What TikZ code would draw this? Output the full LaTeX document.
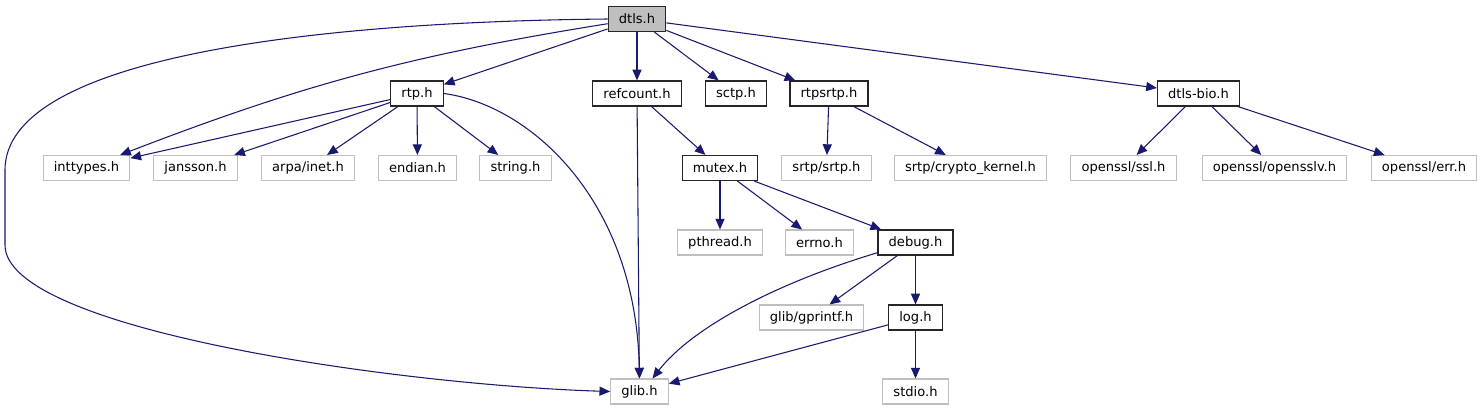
\documentclass[tikz,border=0pt]{standalone}
\usepackage{fontspec}
\setmainfont{DejaVu Sans}
\usepackage{xcolor}
\usepackage{tikz}
\usetikzlibrary{arrows.meta, positioning}
\definecolor{edgeblue}{HTML}{191970}
\definecolor{grey75}{HTML}{BFBFBF}

\begin{document}
\begin{tikzpicture}[
    x=0.75pt, y=-0.75pt,
    file node/.style = {
        rectangle,
        draw=black!85,
        line width=0.9pt,
        minimum height=18.75pt,
        inner xsep=8pt,
        inner ysep=0pt,
        font=\fontsize{9.8}{11}\selectfont,
        fill=white
    },
    main node/.style = {file node, fill=grey75},
    ext node/.style = {file node, draw=grey75, line width=0.8pt},
    dep/.style = {
        -{Triangle[length=8pt, width=6.8pt]},
        draw=edgeblue,
        line width=0.8pt
    }
]
\useasboundingbox (0,0) rectangle (1482,411);

\node [main node] (dtls) at (637,19) {dtls.h};

\node [file node] (rtp)      at (417,93.5)    {rtp.h};
\node [file node] (refcount) at (637,93.5)    {refcount.h};
\node [file node] (sctp)     at (736,93.5)    {sctp.h};
\node [file node] (rtpsrtp)  at (829,93.5)    {rtpsrtp.h};
\node [file node] (dtlsbio)  at (1198.5,93.5) {dtls-bio.h};

\node [ext node]  (inttypes) at (86.5,168)   {inttypes.h};
\node [ext node]  (jansson)  at (195.5,168)  {jansson.h};
\node [ext node]  (arpainet) at (308,168)    {arpa/inet.h};
\node [ext node]  (endian)   at (417.5,168)  {endian.h};
\node [ext node]  (string)   at (515.5,168)  {string.h};
\node [file node] (mutex)    at (720,168)    {mutex.h};
\node [ext node]  (srtp)     at (826.5,168)  {srtp/srtp.h};
\node [ext node]  (crypto)   at (970.5,168)  {srtp/crypto\_kernel.h};
\node [ext node]  (ssl)      at (1123.5,168) {openssl/ssl.h};
\node [ext node]  (opensslv) at (1274.5,168) {openssl/opensslv.h};
\node [ext node]  (err)      at (1424,168)   {openssl/err.h};

\node [ext node]  (pthread)  at (720,242.5)   {pthread.h};
\node [ext node]  (errno)    at (819.5,242.5) {errno.h};
\node [file node] (debug)    at (915.5,242.5) {debug.h};

\node [ext node]  (gprintf)  at (811.5,317.5) {glib/gprintf.h};
\node [file node] (log)      at (915.5,317.5) {log.h};

\node [ext node]  (glib)     at (639.5,391.5) {glib.h};
\node [ext node]  (stdio)    at (915.5,391.5) {stdio.h};

% dtls.h
\draw [dep] (dtls.west) .. controls (300,22) and (5,60) .. (5,170)
    -- (5,245) .. controls (5,330) and (400,385) .. (glib.west);
\draw [dep] (dtls) to[bend right=6] (inttypes);
\draw [dep] (dtls) -- (rtp);
\draw [dep] (dtls) -- (refcount);
\draw [dep] (dtls) -- (sctp);
\draw [dep] (dtls) -- (rtpsrtp);
\draw [dep] (dtls) -- (dtlsbio);

% rtp.h
\draw [dep] (rtp) -- (inttypes);
\draw [dep] (rtp) -- (jansson);
\draw [dep] (rtp) -- (arpainet);
\draw [dep] (rtp) -- (endian);
\draw [dep] (rtp) -- (string);
\draw [dep] (rtp.east) .. controls (530,105) and (636,200) .. (glib.north);

\draw [dep] (refcount) -- (glib);
\draw [dep] (refcount) -- (mutex);

\draw [dep] (rtpsrtp) -- (srtp);
\draw [dep] (rtpsrtp) -- (crypto);

\draw [dep] (dtlsbio) -- (ssl);
\draw [dep] (dtlsbio) -- (opensslv);
\draw [dep] (dtlsbio) -- (err);

\draw [dep] (mutex) -- (pthread);
\draw [dep] (mutex) -- (errno);
\draw [dep] (mutex) -- (debug);

\draw [dep] (debug.195) .. controls (770,285) and (690,330) .. (glib.45);
\draw [dep] (debug) -- (gprintf);
\draw [dep] (debug) -- (log);

\draw [dep] (log) -- (glib);
\draw [dep] (log) -- (stdio);

\end{tikzpicture}
\end{document}
